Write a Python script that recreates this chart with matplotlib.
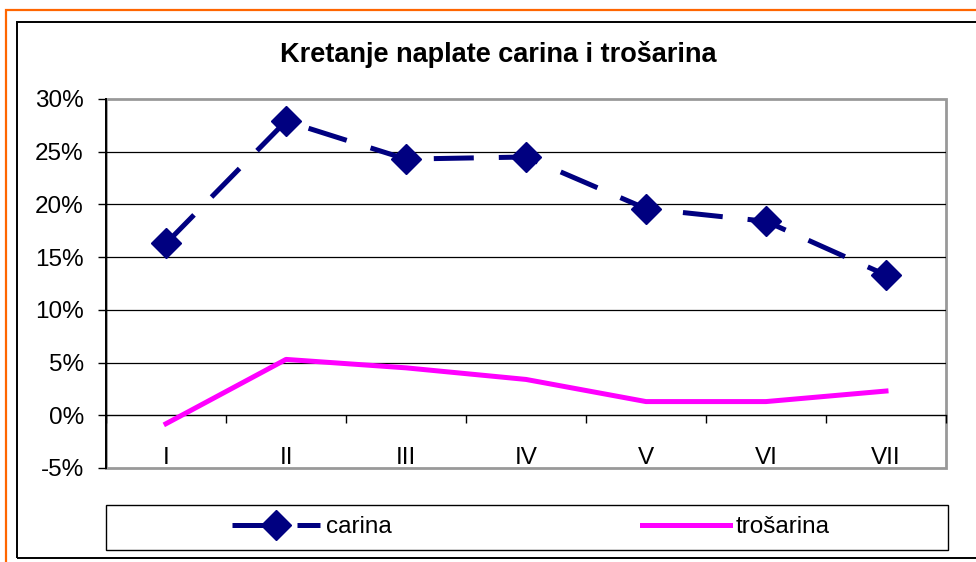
import matplotlib.pyplot as plt
from matplotlib.patches import Rectangle

months = ['I', 'II', 'III', 'IV', 'V', 'VI', 'VII']
carina = [16.3, 27.9, 24.3, 24.5, 19.6, 18.4, 13.3]
trosarina = [-0.8, 5.3, 4.5, 3.4, 1.3, 1.3, 2.3]
yticks = [-5, 0, 5, 10, 15, 20, 25, 30]

plt.rcParams['font.family'] = ['Liberation Sans', 'DejaVu Sans']

W, H = 976, 562
fig = plt.figure(figsize=(W / 100, H / 100), dpi=100)

# vanjski okviri (narančasti i crni)
fig.patches.append(Rectangle((6 / W, -0.1), 2, 1 - 10 / H + 0.1, transform=fig.transFigure,
                             fill=False, ec='#FF6600', lw=1.6))
fig.patches.append(Rectangle((17 / W, 4 / H), 2, 1 - 26 / H, transform=fig.transFigure,
                             fill=False, ec='black', lw=1.4))

ax = fig.add_axes([106 / W, 1 - 468 / H, 840 / W, 369 / H])
x = list(range(len(months)))

ax.plot(x, carina, color='#000080', lw=3.6, dashes=(8, 5), marker='D', ms=15,
        label='carina', zorder=4)
ax.plot(x, trosarina, color='#FF00FF', lw=3.6, label='trošarina', zorder=4)

ax.set_xlim(-0.5, 6.5)
ax.set_ylim(-5, 30)
ax.set_yticks(yticks)
ax.set_yticklabels([f'{v}%' for v in yticks], fontsize=17.5)
ax.tick_params(axis='y', length=6, width=1, pad=10, color='black')

# kategorijska os prolazi kroz 0%
ax.spines['bottom'].set_position(('data', 0))
ax.spines['bottom'].set_color('black')
ax.spines['bottom'].set_linewidth(1)
ax.set_xticks([i - 0.5 for i in range(len(months) + 1)])
ax.set_xticklabels([])
ax.tick_params(axis='x', which='major', length=6, width=1, color='black')
ax.set_xticks(x, months, minor=True)
ax.tick_params(axis='x', which='minor', length=0, pad=23, labelsize=17.5)

ax.spines['left'].set_color('black')
ax.spines['left'].set_linewidth(1.4)
for s in ['top', 'right']:
    ax.spines[s].set_visible(False)
ax.add_patch(Rectangle((0, 0), 1, 1, transform=ax.transAxes, fill=False,
                       ec='#999999', lw=2, clip_on=False, zorder=1))

for v in yticks[2:-1]:
    ax.axhline(v, color='black', lw=0.9, zorder=1)

fig.text(498 / W, 1 - 55 / H, 'Kretanje naplate carina i trošarina',
         ha='center', va='center', fontsize=19.5, fontweight='bold')

# legenda u zasebnom okviru
fig.patches.append(Rectangle((106 / W, 12 / H), 842 / W, 45 / H, transform=fig.transFigure,
                             fill=False, ec='black', lw=1))
fig.legend(loc='center', bbox_to_anchor=(531 / W, 1 - 527 / H), ncol=2, frameon=False,
           fontsize=17.5, handlelength=3.6, handletextpad=0.25, columnspacing=10.3)

fig.savefig('out.png', dpi=100)
